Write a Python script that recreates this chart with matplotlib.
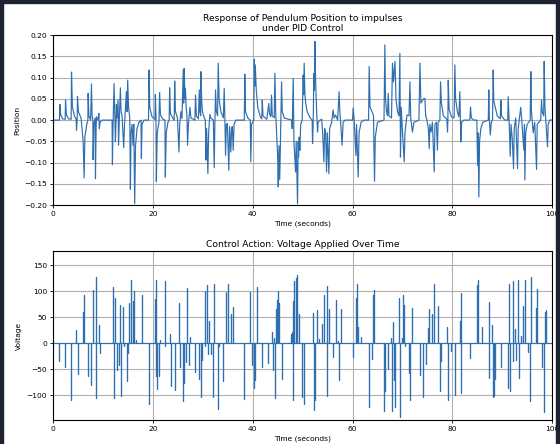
import numpy as np
import matplotlib
matplotlib.use("Agg")
import matplotlib.pyplot as plt
from matplotlib.patches import Rectangle

# --- pendulum position (seconds / rad) ---
pos_t = [
    0.0, 1.25, 1.33, 1.5, 1.9, 2.4, 2.47, 2.65, 3.1, 3.6, 3.67, 3.85, 4.3, 4.6, 4.67, 4.8,
    4.87, 5.05, 5.6, 6.0, 6.2, 6.35, 6.7, 6.95, 7.0, 7.15, 7.5, 7.67, 7.8, 7.95, 8.0, 8.15,
    8.4, 8.47, 8.6, 8.67, 9.0, 9.15, 9.25, 9.4, 9.8, 11.8, 11.87, 12.0, 12.2, 12.35, 12.47,
    12.6, 12.67, 12.8, 13.0, 13.1, 13.3, 13.47, 13.6, 13.8, 14.13, 14.3, 14.67, 14.8, 14.93,
    15.1, 15.35, 15.47, 15.6, 15.8, 16.0, 16.15, 16.33, 16.5, 16.8, 17.2, 17.6, 17.67, 17.8,
    18.2, 19.1, 19.2, 19.35, 19.8, 20.4, 20.47, 20.6, 20.67, 20.85, 21.2, 21.33, 21.5, 22.0,
    22.4, 22.47, 22.65, 23.0, 23.25, 23.33, 23.5, 24.0, 24.25, 24.35, 24.5, 24.9, 25.2, 25.35,
    25.6, 25.8, 26.06, 26.15, 26.26, 26.4, 26.5, 26.65, 26.8, 26.93, 27.1, 27.4, 27.6, 28.4,
    28.53, 28.7, 29.1, 29.27, 29.4, 29.55, 29.6, 29.75, 29.9, 30.3, 30.5, 30.6, 30.75, 31.0,
    31.15, 31.4, 31.6, 32.1, 32.27, 32.4, 32.54, 32.7, 32.95, 33.07, 33.25, 33.6, 34.1, 34.27,
    34.4, 34.54, 34.7, 34.9, 35.2, 35.35, 35.6, 35.75, 35.9, 36.08, 36.25, 36.6, 38.3, 38.4,
    38.55, 39.0, 39.5, 39.6, 39.75, 40.2, 40.3, 40.4, 40.5, 40.7, 41.0, 41.5, 41.8, 41.9,
    42.05, 42.8, 43.2, 43.35, 43.6, 43.76, 43.9, 44.3, 44.43, 44.6, 45.0, 45.1, 45.25, 45.4,
    45.6, 45.77, 45.9, 46.3, 47.8, 47.9, 48.1, 48.25, 48.57, 48.7, 48.97, 49.1, 49.17, 49.3,
    49.44, 49.6, 49.9, 50.1, 50.2, 50.3, 50.45, 50.6, 50.9, 51.5, 51.9, 51.98, 52.1, 52.25,
    52.35, 52.45, 52.6, 52.8, 52.98, 53.1, 53.5, 53.8, 54.0, 54.25, 54.4, 54.6, 54.78, 54.95,
    55.25, 55.4, 55.8, 56.1, 56.3, 56.6, 57.0, 57.3, 57.45, 57.6, 57.9, 58.1, 58.5, 60.0,
    60.1, 60.3, 60.66, 60.8, 61.13, 61.3, 61.7, 62.3, 63.2, 63.33, 63.5, 63.9, 64.2, 64.27,
    64.4, 64.55, 65.0, 66.3, 66.47, 66.6, 66.8, 67.0, 67.14, 67.3, 67.8, 68.0, 68.2, 68.5,
    68.7, 69.0, 69.3, 69.48, 69.6, 69.75, 70.0, 70.35, 70.5, 70.9, 71.3, 71.5, 71.65, 72.0,
    72.3, 73.3, 73.5, 73.7, 74.2, 74.49, 74.65, 74.9, 75.2, 75.36, 75.5, 75.75, 76.0, 76.36,
    76.5, 76.8, 77.0, 77.15, 77.5, 77.63, 77.8, 78.2, 78.9, 79.03, 79.1, 79.17, 79.35, 79.8,
    80.35, 80.5, 80.65, 81.0, 81.3, 81.5, 81.6, 81.7, 81.85, 82.3, 83.5, 83.64, 83.8, 84.3,
    84.9, 85.05, 85.15, 85.31, 85.45, 85.7, 86.1, 87.2, 87.3, 87.4, 87.6, 87.8, 88.05, 88.18,
    88.3, 88.6, 89.0, 89.6, 89.72, 89.85, 90.5, 91.1, 91.19, 91.35, 91.6, 91.75, 92.0, 92.26,
    92.4, 92.7, 93.05, 93.2, 93.7, 93.9, 94.33, 94.45, 94.53, 94.7, 95.0, 95.6, 95.73, 95.85,
    96.2, 96.5, 96.87, 97.0, 97.7, 97.87, 98.0, 98.3, 98.4, 98.55, 99.07, 99.2, 99.5, 100.0,
]
pos_val = [
    0.0, 0.0, 0.037, 0.012, 0.003, 0.002, 0.047, 0.012, 0.003, 0.002, 0.113, 0.03, 0.008, 0.003, -0.024, 0.0,
    0.055, 0.02, 0.004, -0.05, -0.136, -0.04, -0.012, 0.0, 0.063, 0.01, 0.0, 0.085, 0.01, 0.0, -0.093, -0.01,
    0.005, -0.138, -0.02, 0.008, 0.0, 0.016, -0.02, -0.005, 0.0, 0.0, -0.105, -0.01, 0.086, 0.01, -0.051,
    0.0, 0.037, 0.005, 0.047, -0.059, 0.02, 0.076, 0.02, 0.01, -0.065, -0.01, 0.067, 0.02, 0.094,
    0.03, 0.005, -0.163, -0.03, -0.01, -0.059, -0.01, -0.197, -0.06, -0.02, -0.005, 0.0, -0.09, -0.01,
    0.0, 0.0, 0.118, 0.03, 0.008, 0.002, 0.06, 0.01, -0.145, -0.03, -0.005, 0.065, 0.012, 0.002,
    0.0, -0.134, -0.03, -0.005, 0.0, 0.076, 0.015, 0.004, 0.0, 0.092, 0.02, 0.005, -0.075, -0.01,
    0.02, 0.003, 0.118, 0.04, 0.122, 0.05, 0.075, 0.03, 0.01, -0.059, -0.01, 0.03, 0.005, 0.0,
    0.059, 0.01, 0.003, 0.071, 0.02, 0.01, 0.114, 0.05, 0.02, 0.005, 0.0, -0.094, -0.02, -0.126,
    -0.03, 0.013, 0.005, 0.0, -0.112, -0.01, 0.071, 0.02, 0.01, 0.134, 0.05, 0.02, 0.005, 0.075,
    0.01, -0.083, -0.01, -0.008, -0.118, -0.015, -0.075, -0.02, -0.015, -0.071, -0.01, 0.0, 0.0, 0.108,
    0.02, 0.005, 0.0, -0.098, -0.01, 0.0, 0.143, 0.08, 0.13, 0.07, 0.03, 0.008, 0.003, 0.047,
    0.01, 0.002, 0.039, 0.015, 0.008, 0.059, 0.01, 0.005, 0.11, 0.015, -0.09, -0.157, -0.06, -0.14,
    -0.02, 0.09, 0.02, 0.005, 0.0, -0.02, 0.098, -0.05, -0.122, -0.05, -0.197, -0.05, -0.088, -0.04,
    -0.071, -0.01, 0.0, 0.106, 0.06, 0.134, 0.06, 0.04, 0.02, 0.005, 0.0, -0.055, -0.01, 0.11,
    0.07, 0.185, 0.09, 0.02, -0.028, -0.005, 0.0, 0.002, -0.03, -0.098, -0.02, -0.03, -0.122, -0.03,
    -0.126, -0.02, -0.005, 0.024, 0.005, 0.012, 0.0, 0.067, 0.02, -0.005, -0.059, -0.005, 0.0, 0.0,
    0.028, 0.005, -0.083, -0.01, -0.134, -0.03, -0.005, 0.0, 0.0, 0.126, 0.03, 0.02, 0.01, -0.059,
    -0.144, -0.04, -0.005, 0.0, 0.177, 0.05, 0.02, 0.01, 0.063, 0.01, 0.005, 0.134, 0.09, 0.138,
    0.05, 0.02, 0.01, 0.157, -0.087, 0.03, -0.028, -0.098, -0.03, 0.012, 0.01, 0.09, 0.005, -0.028,
    -0.005, 0.0, 0.134, 0.04, 0.05, 0.051, 0.01, 0.0, -0.02, -0.067, -0.01, -0.028, -0.005, -0.122,
    -0.01, -0.005, -0.071, -0.005, 0.0, 0.09, 0.04, 0.01, 0.002, -0.028, 0.0, 0.094, 0.025, 0.008,
    0.005, 0.13, 0.05, 0.02, 0.008, 0.067, 0.01, -0.051, -0.005, 0.0, 0.0, 0.031, 0.005, 0.0,
    0.0, -0.106, -0.03, -0.181, -0.05, -0.02, -0.005, 0.0, 0.071, 0.005, -0.035, -0.005, 0.0, 0.118,
    0.045, 0.03, 0.01, 0.003, 0.047, 0.01, 0.0, 0.0, 0.055, 0.005, -0.085, -0.01, -0.043, -0.114,
    -0.02, 0.005, -0.114, -0.02, 0.03, 0.0, -0.071, -0.01, -0.141, -0.03, -0.01, 0.0, 0.114, 0.02,
    -0.03, -0.005, -0.116, -0.01, 0.0, 0.047, 0.02, 0.01, 0.138, 0.03, -0.063, -0.01, 0.0, 0.0,
]

# --- applied voltage impulses (time s, volts) ---
sim_start, sim_end = 0.0, 100.0
volt_t = [
    1.2, 2.34, 3.54, 4.54, 4.88, 6.0, 6.2, 7.0, 7.48, 8.0, 8.48, 8.55, 9.2, 9.35, 11.9, 12.2,
    12.36, 12.7, 13.16, 13.3, 13.5, 14.03, 14.16, 14.7, 14.83, 15.0, 15.2, 15.5, 16.03, 16.23,
    16.56, 17.7, 19.17, 20.5, 20.57, 20.7, 20.77, 21.24, 21.4, 22.4, 22.5, 23.4, 23.6, 24.4,
    25.25, 25.4, 26.05, 26.25, 26.6, 26.7, 26.9, 27.2, 27.4, 28.5, 29.25, 29.7, 29.86, 30.4,
    30.5, 30.86, 31.1, 31.26, 31.6, 32.06, 32.2, 32.93, 33.2, 34.07, 34.54, 35.07, 35.54,
    35.94, 38.28, 39.41, 39.75, 40.2, 40.4, 40.75, 41.75, 43.1, 43.9, 43.96, 44.16, 44.42,
    44.7, 44.82, 45.1, 45.3, 45.76, 47.63, 47.9, 48.1, 48.16, 48.3, 48.57, 48.83, 49.2, 49.9,
    50.3, 51.97, 52.24, 52.44, 52.77, 53.3, 53.78, 54.3, 54.78, 54.9, 55.25, 56.1, 56.58,
    56.98, 57.3, 57.78, 60.0, 60.6, 60.9, 61.1, 61.66, 63.2, 63.93, 64.13, 64.33, 66.3,
    66.47, 67.14, 67.8, 67.94, 68.14, 68.28, 68.48, 69.34, 69.48, 69.95, 70.15, 70.35, 70.6,
    71.28, 71.48, 71.82, 73.48, 74.02, 74.62, 75.02, 75.36, 75.96, 76.36, 77.03, 77.5, 77.7,
    78.96, 79.16, 79.63, 80.5, 81.5, 81.64, 81.7, 83.5, 84.98, 85.18, 85.84, 87.31, 87.38,
    87.98, 88.18, 88.38, 88.52, 89.65, 91.19, 91.39, 91.52, 92.19, 92.25, 92.52, 92.72, 93.06,
    93.33, 93.73, 94.2, 94.53, 95.06, 95.53, 95.73, 96.67, 96.87, 98.0, 98.4, 98.53, 98.74,
]
volt_val = [
    -35, -46, -110, 26, -59, 61, 93, -64, -80, 103, 128, -106, 35, -19, 108, -106,
    87, -51, -42, 74, -101, 69, -6, -67, -72, -18, 77, 122, 82, 101,
    6, 92, -117, 85, -64, 122, -88, -64, 6, -6, 119, 18, -83, -90,
    77, -46, -112, -77, -35, -37, 106, -42, 12, -56, -69, -104, -32, -5,
    101, 113, -21, 42, -21, -103, 115, -127, -6, -72, 98, 115, 56,
    69, -107, 99, -42, -87, -71, 109, -46, -38, 21, -51, 10, -106,
    65, 83, 101, 77, -69, 18, 21, 82, -109, 119, 125, 131, 56, -104,
    -117, 58, -128, -109, 64, 8, 37, 93, 111, -101, 65, -26, 83,
    5, -71, 65, -27, 88, 114, 32, 12, -123, -31, 93, 103, -130,
    -93, -50, 10, -131, 40, -71, -122, 88, -142, 10, 92, 74, -5,
    -58, -109, 67, -61, -103, -40, 29, 65, 56, 115, 71, -93, -35,
    31, -110, -15, -99, 42, 97, -96, -29, 112, 122, 31, -67, 80,
    35, -103, -101, -69, -46, -87, 114, -93, 119, -35, 27, -32, 121,
    -67, 14, 71, 122, -16, -112, 127, 67, 104, -45, -133, 61, 64,
]

# each impulse drawn as a one-sample spike from the zero baseline
vt = np.asarray(volt_t)
vv = np.asarray(volt_val, dtype=float)
spike_x = np.concatenate([[sim_start], np.repeat(vt, 3), [sim_end]])
spike_y = np.concatenate([[0.0], np.column_stack([np.zeros_like(vv), vv, np.zeros_like(vv)]).ravel(), [0.0]])

plt.rcParams["font.family"] = "DejaVu Sans"
fig = plt.figure(figsize=(5.6, 4.44), dpi=100)

ax1 = fig.add_axes([0.095, 0.538, 0.891, 0.383])
ax2 = fig.add_axes([0.095, 0.054, 0.891, 0.381])

line_kw = dict(color="#2f6fb0", linewidth=0.85)
ax1.plot(pos_t, pos_val, **line_kw)
ax1.set_xlim(0, 100)
ax1.set_ylim(-0.2, 0.2)
ax1.set_yticks(np.arange(-0.20, 0.201, 0.05))
ax1.set_title("Response of Pendulum Position to impulses\nunder PID Control", fontsize=6.6, pad=3)
ax1.set_xlabel("Time (seconds)", fontsize=5.4, labelpad=2)
ax1.set_ylabel("Position", fontsize=5.4, labelpad=3)

ax2.plot(spike_x, spike_y, **line_kw)
ax2.set_xlim(0, 100)
ax2.set_ylim(-148, 178)
ax2.set_yticks([-100, -50, 0, 50, 100, 150])
ax2.set_title("Control Action: Voltage Applied Over Time", fontsize=6.6, pad=3)
ax2.set_xlabel("Time (seconds)", fontsize=5.4, labelpad=2)
ax2.set_ylabel("Voltage", fontsize=5.4, labelpad=3)

for ax in (ax1, ax2):
    ax.grid(True, color="#b0b0b0", linewidth=0.8)
    ax.tick_params(labelsize=5.4, length=2.5, width=0.6, pad=2)
    for s in ax.spines.values():
        s.set_linewidth(0.8)

# dark screenshot frame around the figure
frame = "#1d2230"
fig.add_artist(Rectangle((0, 1 - 3 / 444), 1, 3 / 444, transform=fig.transFigure, color=frame, zorder=10))
fig.add_artist(Rectangle((0, 0), 3 / 560, 1, transform=fig.transFigure, color=frame, zorder=10))
fig.add_artist(Rectangle((1 - 4 / 560, 0), 4 / 560, 1, transform=fig.transFigure, color=frame, zorder=10))

fig.savefig("out.png", dpi=100, facecolor="white")
